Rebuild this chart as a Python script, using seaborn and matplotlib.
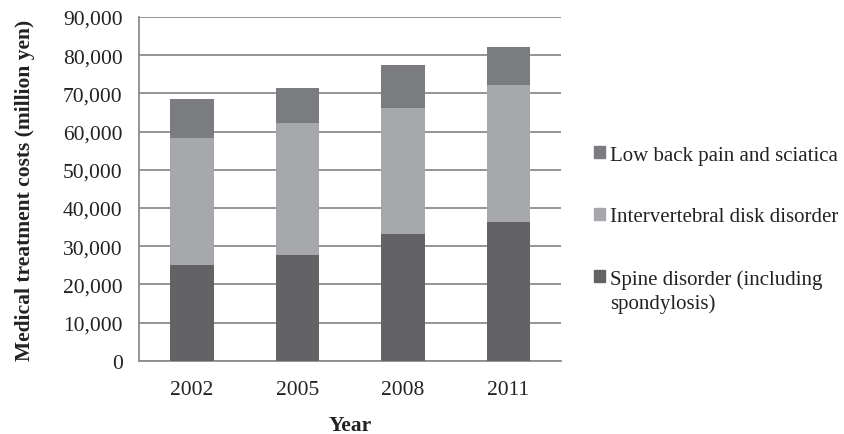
import numpy as np
import pandas as pd
import matplotlib
matplotlib.use("Agg")
import matplotlib.pyplot as plt
import seaborn as sns

years = ["2002", "2005", "2008", "2011"]
spine = [25100, 27700, 33200, 36300]
disk = [33200, 34600, 33000, 36000]
low_back = [10200, 9100, 11200, 9900]

labels = ["Low back pain and sciatica", "Intervertebral disk disorder",
          "Spine disorder (including"]
label_cont = "spondylosis)"
colors = ["#7b7c80", "#a7a8ab", "#636365"]

sns.set_style("white")
plt.rcParams["font.family"] = ["Liberation Serif", "DejaVu Serif"]

df = pd.DataFrame({"year": years, "spine": spine, "disk": disk, "low_back": low_back})
df["mid"] = df["spine"] + df["disk"]
df["top"] = df["mid"] + df["low_back"]

fig = plt.figure(figsize=(8.44, 4.35), dpi=100)
ax = fig.add_axes([0.165, 0.168, 0.5, 0.791])

# draw totals back to front so the stacks show
for col, c in zip(["top", "mid", "spine"], colors):
    sns.barplot(data=df, x="year", y=col, color=c, width=0.41, ax=ax,
                saturation=1, edgecolor="none", zorder=3)

ax.set_ylim(0, 90000)
ax.set_xlim(-0.5, 3.5)
ax.set_yticks(np.arange(0, 90001, 10000))
ax.set_yticklabels([f"{v:,}" for v in range(0, 90001, 10000)], fontsize=15.5, color="#222222")
ax.set_xticks(range(4))
ax.set_xticklabels(years, fontsize=15.5, color="#222222")
ax.set_xticks(np.arange(-0.5, 3.6, 1), minor=True)
ax.tick_params(axis="x", which="major", length=0, pad=14)
ax.tick_params(axis="x", which="minor", length=6, color="#8c8c8c", width=1.3)
ax.tick_params(axis="y", length=6, color="#8c8c8c", width=1.3, pad=6)
ax.yaxis.grid(True, color="#8c8c8c", linewidth=1.3, zorder=0)
ax.set_axisbelow(True)
for s in ["top", "right"]:
    ax.spines[s].set_visible(False)
for s in ["left", "bottom"]:
    ax.spines[s].set_color("#8c8c8c")
    ax.spines[s].set_linewidth(1.3)

ax.set_xlabel("Year", fontsize=15.5, fontweight="bold", labelpad=11, color="#222222")
ax.set_ylabel("Medical treatment costs (million yen)", fontsize=15.5, fontweight="bold",
              labelpad=20, color="#222222")

handles = [plt.Rectangle((0, 0), 1, 1, color=c) for c in colors]
leg = fig.legend(handles, labels, loc="upper left", bbox_to_anchor=(0.704, 0.663),
                 frameon=False, fontsize=15, handlelength=0.52, handleheight=0.52,
                 handletextpad=0.25, labelspacing=2.05, borderpad=0, borderaxespad=0,
                 labelcolor="#222222")

# second line of the last legend entry, kept under the first line
fig.canvas.draw()
bb = leg.get_texts()[2].get_window_extent().transformed(fig.transFigure.inverted())
fig.text(bb.x0, bb.y0 - 0.01, label_cont, fontsize=15, color="#222222",
         ha="left", va="top")

fig.savefig("out.png", dpi=100)
